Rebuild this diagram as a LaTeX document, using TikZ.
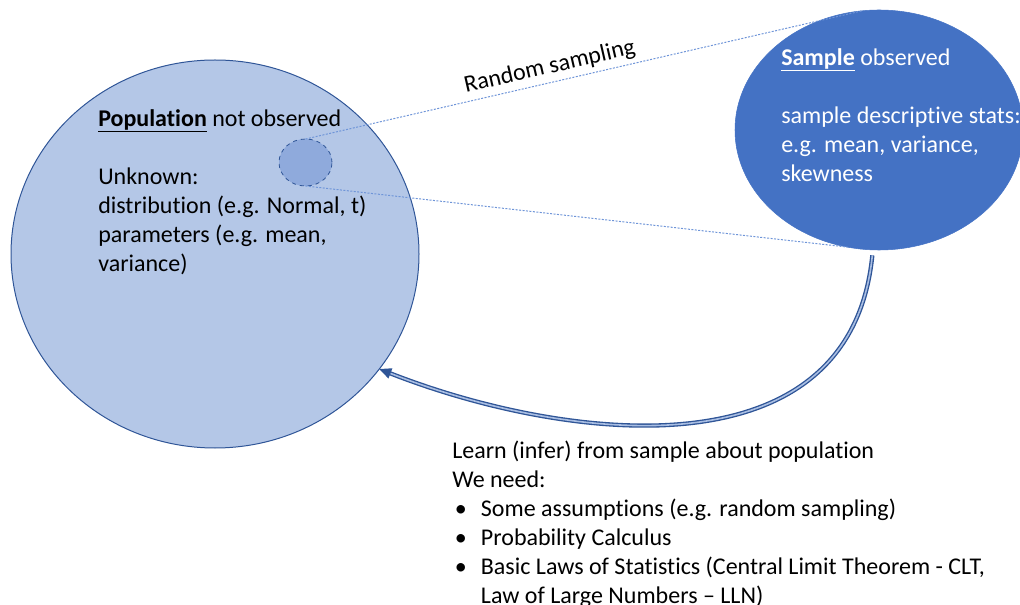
\documentclass[tikz,border=0pt]{standalone}
\usepackage{fontspec}
\setmainfont{Carlito}[Ligatures=NoCommon]
\usetikzlibrary{arrows.meta, shapes.geometric}
\definecolor{popfill}{HTML}{B4C7E7}
\definecolor{popborder}{HTML}{2F5597}
\definecolor{samplefill}{HTML}{4472C4}
\definecolor{subsetfill}{HTML}{8FAADC}
\definecolor{linkblue}{HTML}{6F95D8}
\definecolor{arrowdark}{HTML}{2F5597}
\definecolor{arrowlight}{HTML}{A9BEE3}
\newcommand{\heading}[1]{\underline{\textbf{#1}}}

\begin{document}
\begin{tikzpicture}[x=0.75pt, y=-0.75pt,
      blob/.style={ellipse, inner sep=0pt, outer sep=0pt},
      note/.style={inner sep=0pt, align=left,
        font=\fontsize{18}{21.75}\selectfont},
      link/.style={draw=linkblue, line width=0.75pt,
        dash pattern=on 1.5pt off 1.1pt},
      flow/.style={draw=arrowdark, line width=1pt, double=arrowlight,
        double distance=1.2pt},
      >=Latex
    ]
      \useasboundingbox (0,0) rectangle (1020,605);
      \node[blob, fill=popfill, draw=popborder, line width=0.75pt,
        minimum width=306pt, minimum height=291pt] (population) at (215,254) {};
      \node[blob, fill=samplefill, draw=samplefill,
        minimum width=216pt, minimum height=180pt] (sample) at (879,130) {};
      \node[blob, fill=subsetfill, draw=popborder, dashed, line width=0.6pt,
        minimum width=39.75pt, minimum height=35.25pt] (subset) at (305.5,162.5) {};
      \node[note, anchor=north west] (poptext) at (98,109)
        {\heading{Population} not observed\\[21.75pt]
         Unknown:\\distribution (e.g. Normal, t)\\parameters (e.g. mean,\\variance)};
      \node[note, anchor=north west, text=white] (sampletext) at (781,48)
        {\heading{Sample} observed\\[21.75pt]
         sample descriptive stats:\\e.g. mean, variance,\\skewness};
      \node[note, anchor=north west] (inference) at (452,441)
        {Learn (infer) from sample about population\\We need:\\
         \hspace*{2pt}\makebox[19.5pt][l]{\textbullet}Some assumptions (e.g. random sampling)\\
         \hspace*{2pt}\makebox[19.5pt][l]{\textbullet}Probability Calculus\\
         \hspace*{2pt}\makebox[19.5pt][l]{\textbullet}Basic Laws of Statistics (Central Limit Theorem - CLT,\\
         \hspace*{21.5pt}Law of Large Numbers -- LLN)};
      \draw[link] (subset.north) -- node[pos=0.445, sloped, above=0pt,
        font=\fontsize{18}{21}\selectfont] {Random sampling} (sample.98);
      \draw[link] (subset.south) -- (sample.255);
      \draw[flow, -{Triangle[length=9pt, width=8pt, fill=arrowdark]}]
        ([shift={(-5pt,-4pt)}]sample.south) .. controls (850,480) and (560,440)
        .. (population.-35);
    \end{tikzpicture}
\end{document}
